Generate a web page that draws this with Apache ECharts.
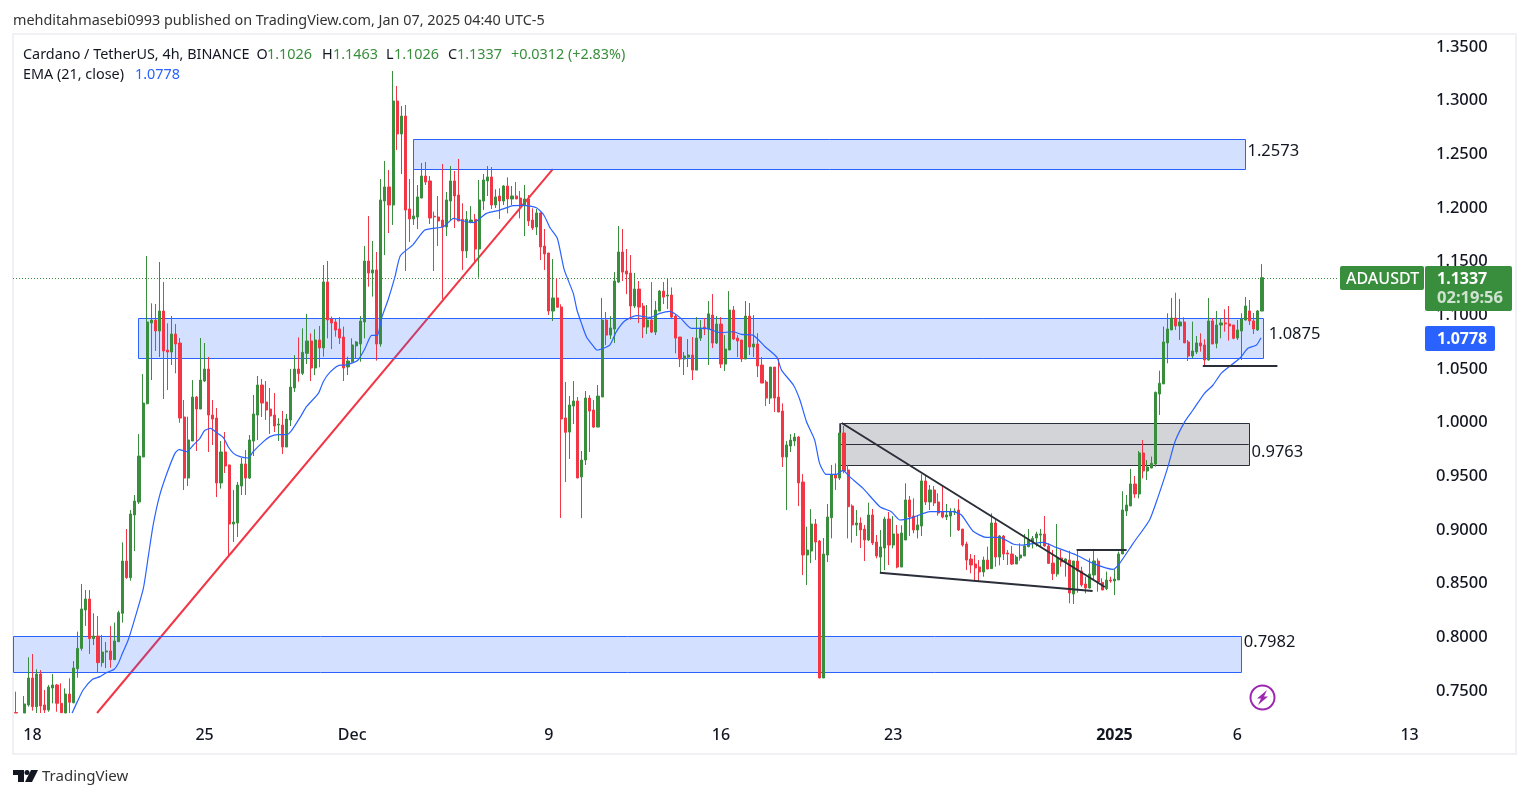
<!DOCTYPE html>
<html><head><meta charset="utf-8">
<style>html,body{margin:0;padding:0;background:#fff}#c{width:1529px;height:798px}</style>
<script src="https://cdn.jsdelivr.net/npm/echarts@6/dist/echarts.min.js"></script>
</head><body><div id="c"></div>
<script>
const opens=[.7285,null,.7281,.7356,.7607,.734,.7644,.7356,.7309,.7514,
.7542,.7371,.7281,.7458,.7377,.7694,.7883,.8241,.8343,.7974,
.7998,.775,.785,.7859,.7778,.7945,.821,.8697,.8542,.9126,
.9247,.9666,1.0163,1.0915,1.0942,1.084,1.1026,1.0663,1.0644,1.0812,
1.0728,1.0039,.947,.9815,1.0225,1.0113,1.0374,1.0486,1.0057,1.0029,
.9424,.9713,.9592,.9042,.9051,.9396,.9601,.947,.9815,1.0057,
1.0337,1.0178,1.0113,1.0057,.9964,.9964,.9759,1.0011,1.0309,1.0486,
1.0446,1.0632,1.0747,1.0495,1.0756,1.0682,1.1297,1.0952,1.0924,1.0859,
1.0784,1.0505,1.0554,1.0701,1.0719,1.0924,1.1492,1.138,1.1409,1.0719,
1.2051,1.2182,1.2014,1.2983,1.2676,1.2843,1.1977,1.1884,1.1902,1.2079,
1.2284,1.2238,1.1909,1.1902,1.1874,1.1809,1.2051,1.2238,1.2107,1.1881,
1.1586,1.1853,1.1881,1.1604,1.2051,1.2238,1.2275,1.2014,1.2098,1.2051,
1.2191,1.207,1.2098,1.2079,1.2008,1.207,1.1874,1.1809,1.194,1.1632,
1.1567,1.1026,1.1148,1.1064,1.003,.9899,1.0141,1.0188,.948,.9638,
1.0215,1.0104,.9945,1.0225,1.0942,1.0802,1.0858,1.1296,1.1576,1.1399,
1.138,1.1073,1.1231,1.1073,1.0877,1.0942,1.083,1.1026,1.1212,1.1166,
1.1175,1.0979,1.0784,1.0579,1.0597,1.0616,1.0476,1.0774,1.0877,1.0858,
1.0989,1.0728,1.0905,1.0532,1.0663,1.1035,1.0774,1.0756,1.0579,1.0979,
1.0691,1.0719,1.0523,1.0365,1.0215,1.0504,1.0225,1.0094,.9666,.9768,
.9815,.9852,.9433,.8753,.879,.9042,.8883,.7607,.8753,.9101,
.9498,.947,.989,.9545,.921,.9033,.9051,.8995,.8893,.9126,
.8874,.8734,.8818,.9088,.8846,.8949,.8641,.8893,.9266,.9116,
.8986,.9023,.9443,.9247,.9359,.9247,.9154,.9107,.9116,.9154,
.9172,.8995,.8855,.8716,.8669,.8641,.8595,.8706,.8626,.9051,
.8734,.893,.8772,.8762,.8669,.8725,.8744,.8831,.8877,.8912,
.8939,.8949,.8837,.8678,.8576,.8725,.8688,.8706,.839,.8697,
.8604,.8483,.8446,.8567,.8697,.8498,.8439,.852,.8511,.8521,
.8763,.9163,.921,.9415,.9322,.9704,.9536,.9564,.9601,1.0253,
1.0347,1.0729,1.085,1.0961,1.0887,1.0924,1.0738,1.0607,1.0645,1.0729,
1.071,1.057,1.0934,1.0725,1.0896,1.0915,1.0906,1.0896,1.0775,1.084,
1.0943,1.1027,1.0934,1.085,1.1026];
const closes=[.7281,null,.7365,.7607,.734,.7644,.7346,.7309,.7523,.7542,
.7371,.7284,.7458,.7381,.77,.7883,.825,.8343,.7974,.7998,
.775,.7849,.7859,.7778,.7952,.8216,.8697,.8542,.9135,.9256,
.9675,1.0169,1.0924,1.0942,1.084,1.1026,1.0654,1.0644,1.0812,1.0719,
1.0029,.947,.9825,1.0225,1.0113,1.0383,1.0486,1.0057,1.002,.9424,
.9713,.9582,.9042,.906,.9405,.9601,.947,.9825,1.0067,1.0337,
1.0169,1.0104,1.0048,.9955,.9973,.9759,1.002,1.0318,1.0486,1.0443,
1.0641,1.0747,1.0495,1.0756,1.0682,1.1297,1.0943,1.0915,1.0849,1.0775,
1.0495,1.0561,1.071,1.0738,1.0933,1.1492,1.138,1.1409,1.0719,1.2061,
1.2182,1.2014,1.2983,1.2676,1.2843,1.1967,1.1884,1.1912,1.2089,1.2284,
1.2228,1.1893,1.1903,1.1865,1.1809,1.2061,1.2238,1.2098,1.1865,1.1586,
1.1881,1.1874,1.1604,1.2061,1.2247,1.2275,1.2014,1.2089,1.2051,1.2191,
1.207,1.2098,1.207,1.2005,1.207,1.1865,1.18,1.194,1.1623,1.1558,
1.1026,1.1148,1.1061,1.002,.9896,1.0151,1.0188,.9471,.9638,1.0216,
1.0094,.9945,1.0234,1.0942,1.0802,1.0868,1.1306,1.1576,1.1389,1.1371,
1.1073,1.1231,1.1063,1.0877,1.0942,1.083,1.1035,1.1212,1.1156,1.1175,
1.097,1.0774,1.0579,1.0607,1.0616,1.0476,1.0774,1.0868,1.0858,1.1,
1.0728,1.0905,1.0532,1.0672,1.1035,1.0765,1.0747,1.0579,1.0979,1.0691,
1.0719,1.0514,1.0355,1.0215,1.0504,1.0215,1.0085,.9666,.9778,.9824,
.9852,.9424,.8753,.8799,.9042,.8874,.7607,.8762,.9107,.9498,
.947,.989,.9536,.9203,.9033,.9051,.8986,.8893,.9126,.8865,
.8744,.8828,.9088,.8846,.8949,.8641,.8958,.9266,.9107,.8986,
.9033,.9443,.9247,.9359,.9238,.9144,.9107,.9126,.9157,.9163,
.8986,.8846,.8706,.866,.8632,.8595,.8706,.8623,.9051,.8734,
.893,.8762,.8762,.8669,.8734,.8753,.8837,.8893,.8908,.8949,
.8949,.8837,.8675,.8579,.8725,.8688,.8716,.8399,.8697,.8604,
.8474,.8446,.8576,.8697,.8501,.8427,.852,.8511,.8529,.8763,
.9173,.9219,.9415,.9322,.9704,.9536,.9573,.9607,1.0269,1.0353,
1.0738,1.0859,1.0961,1.0887,1.0924,1.0729,1.0607,1.0654,1.0729,1.0701,
1.057,1.0934,1.0719,1.0896,1.0915,1.0906,1.0887,1.0772,1.085,1.0952,
1.1073,1.0934,1.0859,1.1027,1.1337];
const lows=[.7281,null,.7281,.734,.7303,.7281,.7281,.7281,.7293,.7371,
.7293,.7281,.7281,.7281,.7371,.761,.7862,.8092,.7831,.7914,
.7657,.7713,.77,.7703,.7775,.7943,.8123,.8532,.8514,.879,
.9228,.9666,1.0157,1.0383,1.0654,1.0598,1.0206,1.029,1.0523,1.0446,
.9986,.9359,.9396,.9815,.9722,1.0113,1.0365,.9713,.9778,.9293,
.9371,.9517,.8753,.8874,.8921,.9312,.9312,.9461,.9675,.9825,
1.0039,1.0011,.988,.9899,.9815,.9694,.9759,.9955,1.0272,1.0368,
1.043,1.0533,1.0374,1.043,1.0502,1.0601,1.0772,1.0672,1.0787,1.0719,
1.0374,1.043,1.0545,1.0585,1.0554,1.0772,1.1253,1.116,1.0564,1.0694,
1.1548,1.1753,1.1828,1.2526,1.2303,1.1399,1.1669,1.1828,1.179,1.2076,
1.22,1.1837,1.1399,1.1632,1.1138,1.1725,1.1874,1.18,1.1865,1.1409,
1.152,1.1843,1.1486,1.1337,1.1967,1.2098,1.1977,1.1986,1.1884,1.2014,
1.1936,1.2014,1.207,1.189,1.1725,1.1818,1.1781,1.1735,1.1502,1.1409,
1.0989,1.0933,1.1061,.9098,.9433,.9648,.9974,.9468,.9097,.9592,
.9712,.9936,.9945,1.0225,1.0709,1.0765,1.0728,1.1287,1.1306,1.1184,
1.0945,1.1054,1.0914,1.0774,1.0812,1.0821,1.0802,1.1026,1.1091,1.1045,
1.0951,1.0632,1.0504,1.043,1.0504,1.0383,1.0476,1.0747,1.0802,1.0523,
1.0681,1.0719,1.0495,1.0467,1.0663,1.0756,1.0597,1.0551,1.0579,1.0616,
1.0597,1.0411,1.0355,1.0141,1.016,1.0085,1.0085,.9573,.9172,.9712,
.9768,.9209,.8566,.8473,.8678,.8706,.7607,.7607,.8688,.8908,
.9359,.9452,.9514,.8908,.8868,.893,.8818,.8697,.8883,.8846,
.8722,.8582,.8613,.866,.8815,.8629,.8641,.8893,.893,.8955,
.8908,.893,.9219,.9172,.921,.912,.9095,.9079,.8922,.9126,
.8977,.8831,.8613,.8582,.852,.8505,.8551,.862,.8626,.8644,
.8657,.8706,.866,.866,.8669,.87,.8744,.8825,.8815,.8831,
.8831,.8831,.8669,.852,.8551,.8644,.8551,.8303,.8297,.8402,
.8458,.8396,.844,.852,.8411,.8427,.8427,.8495,.838,.8521,
.8763,.9117,.921,.9285,.9281,.9467,.9452,.9561,.9576,1.0058,
1.0347,1.0539,1.085,1.085,1.0756,1.0729,1.0561,1.0586,1.0626,1.0648,
1.0514,1.0564,1.0719,1.0679,1.0772,1.0834,1.075,1.0763,1.0756,1.057,
1.0937,1.0896,1.0812,1.084,1.1026];
const highs=[.748,null,.7439,.78,.7831,.7688,.7681,.7495,.7542,.7644,
.7551,.7557,.7511,.7604,.7765,.8039,.8483,.8427,.8427,.821,
.8185,.8008,.7943,.8092,.8123,.8234,.8871,.8995,.9172,.9312,
.988,1.0439,1.1539,1.1098,1.1092,1.1483,1.1297,1.0911,1.098,1.0905,
1.0775,1.0197,1.0042,1.0383,1.0234,1.0775,1.0728,1.0598,1.0197,1.0123,
.9815,.9899,.9595,.9358,.9433,.9657,.9731,.9871,1.0244,1.0421,
1.0393,1.0374,1.0309,1.0262,1.0029,1.0095,1.0067,1.0486,1.0616,1.0781,
1.0865,1.1,1.0818,1.0856,1.0887,1.1455,1.1492,1.0974,1.0958,1.0971,
1.0881,1.0601,1.0772,1.0747,1.098,1.1632,1.1912,1.1679,1.1576,1.2256,
1.2424,1.234,1.3263,1.3123,1.2936,1.2946,1.2256,1.237,1.22,1.2405,
1.2415,1.2284,1.1952,1.2098,1.2396,1.2135,1.2377,1.2331,1.2443,1.203,
1.1958,1.2005,1.193,1.2247,1.2303,1.2377,1.2368,1.216,1.2169,1.22,
1.2272,1.2191,1.2228,1.2145,1.22,1.2107,1.1983,1.1977,1.1943,1.179,
1.1567,1.1511,1.1331,1.1089,1.0365,1.0235,1.0374,1.0225,.9722,1.0281,
1.0243,1.0197,1.0337,1.1147,1.1017,1.0979,1.1389,1.1818,1.179,1.1604,
1.1548,1.138,1.1306,1.1101,1.1082,1.1296,1.1119,1.1222,1.1296,1.133,
1.1246,1.0998,1.0784,1.0644,1.0765,1.0784,1.097,1.0942,1.0961,1.1119,
1.1184,1.0979,1.097,1.0802,1.1212,1.1073,1.0802,1.0756,1.1119,1.1101,
1.0989,1.0821,1.0597,1.0383,1.0504,1.0504,1.0585,1.0166,.9815,.988,
.9889,.9862,.9507,.9017,.9181,.9088,.8893,.8911,.9228,.9592,
.9607,.998,.9955,.9592,.9225,.9172,.9104,.9033,.9241,.9182,
.8939,.8986,.911,.9154,.9116,.9033,.903,.9421,.9303,.9281,
.9126,.9505,.9498,.9405,.9396,.9328,.9396,.9228,.9188,.9188,
.9272,.8995,.8877,.8762,.8753,.8706,.8738,.8831,.9141,.9095,
.8939,.8939,.88,.8837,.8753,.8862,.8949,.8995,.893,.897,
.8995,.9116,.8862,.88,.9042,.88,.8722,.8793,.8697,.8806,
.8644,.8551,.8722,.879,.8722,.8536,.8598,.8551,.862,.8785,
.9347,.9312,.9555,.9489,.9722,.9825,.9638,.967,1.0275,1.0471,
1.0881,1.1005,1.1148,1.1197,1.1139,1.0968,1.0756,1.0927,1.0794,1.0819,
1.0763,1.1148,1.0961,1.1027,1.0958,1.1042,1.1073,1.0896,1.0943,1.1005,
1.1157,1.1129,1.1008,1.1036,1.1463];

const emaX=[13.9,15.2,16.6,18.9,20.7,22.3,24.2,25.2,26.2,27.6,29,31.3,32.5,33.7,35.2,36.9,39,40,41.9,43.5,45.1,46.2,47.7,49.2,50.8,52,53.3,54.9,56.9,58.1,60.6,62.2,64.2,66.2,67.5,69.7,71.1,74,75.2,76.8,79.3,80.5,82.5,83.7,85.4,87,88.4,89.4,91,92.7,94,97,100,104.5,107,108.5,111.8,115,118.3,121.5,124,127.2,129,130.6,132.3,134,136.2,137.1,138.2,139.4,141,142,145.1,146.7,148.8,151.6,155,157.3,159.7,162.2,165,168.7,172,175.2,177.2,180,183,185.9,187,189.9,191.5,193.1,195.1,196.3,197.9,200.4,202,203.6,206.9,211,213.8,215.9,219.1,223.2,228.8,230.9,233.7,236.9,240.2,243.5,245.9,250.8,254,258.9,263,267.9,269.5,272.8,276.8,278.9,281.3,283,285.4,287.4,290.2,292.3,294.3,298.8,300.8,302.9,304];
const emaY=[.7278,.7387,.7495,.7595,.762,.7657,.7688,.7744,.7837,.7961,.8132,.8442,.8738,.9033,.9297,.9498,.97,.9735,.9716,.9778,.984,.9911,.9933,.9893,.9849,.9762,.97,.9669,.9657,.9716,.9809,.9856,.9874,.9874,.9915,1.0045,1.0135,1.0259,1.0368,1.0455,1.0523,1.0523,1.0545,1.057,1.0679,1.08,1.08,1.0958,1.1129,1.1346,1.1542,1.1641,1.1781,1.1812,1.189,1.1874,1.1849,1.1936,1.1967,1.2008,1.2011,1.1989,1.1921,1.1797,1.1704,1.1409,1.1191,1.1036,1.0911,1.0787,1.0703,1.0663,1.0709,1.0834,1.0936,1.0983,1.0967,1.1004,1.1023,1.0967,1.0865,1.0865,1.0824,1.0833,1.0809,1.0802,1.0694,1.0594,1.0476,1.0337,1.0197,.9995,.9824,.9607,.9504,.9504,.9541,.9483,.9374,.9203,.9157,.9079,.9104,.9157,.9157,.9126,.8977,.8918,.8918,.8856,.8846,.8871,.8824,.8753,.8675,.8619,.8675,.8862,.908,.9297,.9576,.9809,.9996,1.0104,1.026,1.0337,1.0446,1.0586,1.0679,1.071,1.0778];

const tickIdx=[4,46,82,130,172,214,268,298,340];
const tickLabels=['18','25','Dec','9','16','23','2025','6','13'];
const priceTicks=[.75,.8,.85,.9,.95,1,1.05,1.1,1.15,1.2,1.25,1.3,1.35];
const lastPrice=1.1337;

const zoneFrom=[97,30,-0.5];
const zoneTo=[300,304.4,299];
const zoneTop=[1.2633,1.0961,.7998];
const zoneBottom=[1.2349,1.0584,.7663];
const zoneLabel=['1.2573','1.0875','0.7982'];
const labelX=[300.7,305.9,299.8];
const labelY=[1.2516,1.0812,.7942];
const greyFrom=[201.2], greyTo=[301], greyTop=[.9983], greyBottom=[.9592], greyMid=[.9787], greyLabel=['0.9763'], greyLabelX=[301.7], greyLabelY=[.9712];

const redLine=[[20,.7281,131.2,1.2349]];
const blackLines=[[201.7,.9983,265.9,.8455],[211,.8588,262.9,.8418],[259,.8804,271.2,.8804],[289.8,1.0517,308,1.0517]];

const GREEN='#388e3c',RED='#f23645',BLUE='#2962ff',FONT='"Noto Sans",sans-serif';
const TOTAL=345;
const categories=new Array(TOTAL).fill('');
tickIdx.forEach((t,k)=>categories[t]=tickLabels[k]);
const candles=opens.map((o,i)=>o===null?['-','-','-','-']:[o,closes[i],lows[i],highs[i]]);

function zoneSeries(name,rows,fill,stroke,z){
  return {type:'custom',name,xAxisIndex:1,yAxisIndex:0,z,silent:true,clip:false,
    data:rows,
    renderItem(p,api){
      const a=api.coord([api.value(0),api.value(2)]),b=api.coord([api.value(1),api.value(3)]);
      const x=Math.round(a[0])+.5,y=Math.round(a[1])+.5,w=Math.round(b[0]-a[0]),h=Math.round(b[1]-a[1]);
      return {type:'rect',shape:{x,y,width:w,height:h},style:{fill,stroke,lineWidth:1}};
    }};
}
function lineSeries(name,rows,stroke,lineWidth,z,dash){
  return {type:'custom',name,xAxisIndex:1,yAxisIndex:0,z,silent:true,clip:false,
    data:rows,
    renderItem(p,api){
      const a=api.coord([api.value(0),api.value(1)]),b=api.coord([api.value(2),api.value(3)]);
      const flat=api.value(1)===api.value(3);
      const snap=v=>lineWidth%2?Math.round(v)+.5:Math.round(v);
      const y1=flat?snap(a[1]):a[1],y2=flat?snap(b[1]):b[1];
      return {type:'line',shape:{x1:a[0],y1,x2:b[0],y2},style:{stroke,lineWidth,lineDash:dash||null}};
    }};
}
function labelSeries(name,rows,z){
  return {type:'custom',name,xAxisIndex:1,yAxisIndex:0,z,silent:true,clip:false,
    data:rows,
    renderItem(p,api){
      const a=api.coord([api.value(0),api.value(1)]);
      return {type:'text',x:a[0],y:a[1],style:{text:rows[p.dataIndex][2],fill:'#131722',font:'16.5px '+FONT,textAlign:'left',textVerticalAlign:'middle'}};
    }};
}
const zoneRows=zoneFrom.map((v,i)=>[v,zoneTo[i],zoneTop[i],zoneBottom[i]]);
const greyRows=greyFrom.map((v,i)=>[v,greyTo[i],greyTop[i],greyBottom[i]]);
const midRows=greyFrom.map((v,i)=>[v,greyMid[i],greyTo[i],greyMid[i]]);
const labelRows=zoneLabel.map((t,i)=>[labelX[i],labelY[i],t]).concat(greyLabel.map((t,i)=>[greyLabelX[i],greyLabelY[i],t]));

function txt(x,y,text,fill,font){
  return {type:'text',z:50,x,y,style:{text,fill,font:font||('14.4px '+FONT),textAlign:'left',textVerticalAlign:'middle'}};
}
const chart=echarts.init(document.getElementById('c'),null,{renderer:'canvas',width:1529,height:798});
chart.setOption({
  animation:false,
  backgroundColor:'#fff',
  grid:{left:14,top:35,width:1414,height:678,containLabel:false},
  xAxis:[{type:'category',data:categories,boundaryGap:true,gridIndex:0,
      axisLine:{show:false},axisTick:{show:false},splitLine:{show:false},
      axisLabel:{show:true,interval:i=>tickIdx.includes(i),margin:14,color:'#131722',fontFamily:'"Noto Sans"',fontSize:16,fontWeight:500,hideOverlap:false,
        formatter:v=>v==='2025'?'{b|2025}':v,rich:{b:{fontWeight:'bold',fontSize:16,fontFamily:'"Noto Sans"',color:'#131722'}}}},
    {type:'value',show:false,gridIndex:0,min:-0.26,max:TOTAL-0.26,splitLine:{show:false}}],
  yAxis:[{type:'value',position:'right',min:0.7281,max:1.3598,scale:true,
      axisLine:{show:false},axisTick:{show:false},splitLine:{show:false},
      axisLabel:{customValues:priceTicks,margin:8,formatter:v=>'{p|'+v.toFixed(4)+'}',
        rich:{p:{color:'#131722',fontFamily:'"Noto Sans"',fontSize:16.5,fontWeight:500,padding:[3,0,0,0]}}}}],
  series:[
    lineSeries('Support trend',redLine,RED,2,1),
    zoneSeries('Zones',zoneRows,'rgba(41,98,255,0.2)',BLUE,2),
    zoneSeries('Grey zone',greyRows,'rgba(120,123,134,0.33)','#2a2e39',2),
    lineSeries('Grey mid',midRows,'#2a2e39',1,2.5),
    lineSeries('Last price',[[-0.5,lastPrice,323,lastPrice]],GREEN,1,2.6,[1,2]),
    {type:'candlestick',name:'ADAUSDT',xAxisIndex:0,yAxisIndex:0,z:3,data:candles,barWidth:2.6,clip:true,silent:true,
      itemStyle:{color:GREEN,color0:RED,borderColor:GREEN,borderColor0:RED,borderWidth:1}},
    {type:'line',name:'EMA',xAxisIndex:1,yAxisIndex:0,z:4,data:emaX.map((x,i)=>[x,emaY[i]]),clip:true,
      showSymbol:false,silent:true,lineStyle:{color:BLUE,width:1.2},smooth:0.2},
    lineSeries('Drawings',blackLines,'#2a2e39',2,5),
    labelSeries('Levels',labelRows,6)
  ],
  graphic:[
    {type:'rect',z:-1,silent:true,shape:{x:13,y:34,width:1503,height:720},style:{fill:'none',stroke:'#eff1f6',lineWidth:2}},
    txt(13,21,'mehditahmasebi0993 published on TradingView.com, Jan 07, 2025 04:40 UTC-5','#333'),
    txt(23,55,'Cardano / TetherUS, 4h, BINANCE','#131722'),
    txt(256.5,55,'O','#131722'),txt(267,55,'1.1026',GREEN),
    txt(322,55,'H','#131722'),txt(333,55,'1.1463',GREEN),
    txt(386,55,'L','#131722'),txt(394,55,'1.1026',GREEN),
    txt(448,55,'C','#131722'),txt(457,55,'1.1337',GREEN),
    txt(511,55,'+0.0312 (+2.83%)',GREEN),
    txt(23,75,'EMA (21, close)','#131722'),txt(135,75,'1.0778',BLUE),
    {type:'rect',z:40,shape:{x:1340,y:266,width:84,height:24,r:2},style:{fill:GREEN}},
    txt(1346,279,'ADAUSDT','#fff','500 16px '+FONT),
    {type:'rect',z:40,shape:{x:1425,y:266,width:87,height:45,r:2},style:{fill:GREEN}},
    txt(1437,279,'1.1337','#fff','bold 16px '+FONT),
    txt(1437,298,'02:19:56','#cfe3d0','bold 16.5px '+FONT),
    {type:'rect',z:40,shape:{x:1425,y:326,width:70,height:25,r:2},style:{fill:BLUE}},
    txt(1437,339,'1.0778','#fff','bold 16px '+FONT),
    {type:'circle',z:40,shape:{cx:1262.5,cy:697.5,r:12},style:{fill:'#fff',stroke:'#9c27b0',lineWidth:2}},
    {type:'polygon',z:41,shape:{points:[[1267,690],[1257,698.5],[1261,698.5],[1258,705],[1268,696.5],[1264,696.5]]},style:{fill:'#9c27b0'}},
    {type:'polygon',z:40,shape:{points:[[13,770],[24,770],[24,782],[18,782],[18,775],[13,775]]},style:{fill:'#131722'}},
    {type:'circle',z:40,shape:{cx:27,cy:772.5,r:2.5},style:{fill:'#131722'}},
    {type:'polygon',z:40,shape:{points:[[31,770],[38,770],[32,782],[25,782]]},style:{fill:'#131722'}},
    txt(42,777,'TradingView','#333','15px '+FONT)
  ]
});
</script></body></html>
